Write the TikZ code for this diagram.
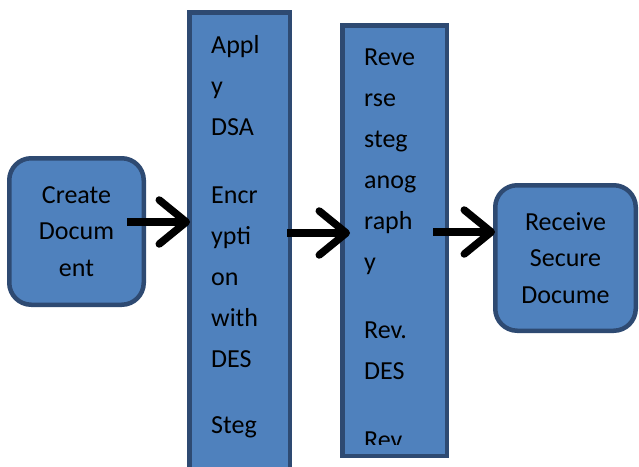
\documentclass[tikz,border=0pt]{standalone}
\usepackage{fontspec}
\setmainfont{Carlito}
\usetikzlibrary{arrows.meta}
\definecolor{boxfill}{HTML}{4F81BD}
\definecolor{boxline}{HTML}{2E4A72}
\begin{document}
\begin{tikzpicture}[x=1pt,y=-1pt,
  box/.style={draw=boxline, fill=boxfill, line width=4.5pt, inner sep=0pt},
  roundbox/.style={box, rounded corners=22pt, align=center, font=\fontsize{26}{36.5}\selectfont},
  boxtext/.style={anchor=base west, inner sep=0pt, text width=90pt, align=left, font=\fontsize{26}{41}\selectfont},
  arr/.style={line width=7.5pt, -{Straight Barb[length=27pt,width=44pt,round]}}]
\useasboundingbox (0,0) rectangle (639,466);
\clip (0,0) rectangle (639,466);
% boxes
\node[roundbox, minimum width=134.5pt, minimum height=146.5pt] (create) at (76.5,231.5) {Create\\Docum\\ent};
\node[box, minimum width=100.5pt, minimum height=465.5pt] (dsa) at (239.5,245) {};
\node[box, minimum width=104.5pt, minimum height=430.5pt] (rev) at (394.5,240.5) {};
\node[roundbox, minimum width=140.5pt, minimum height=145.5pt] (recv) at (565.5,258) {Receive\\Secure\\Docume};
% texts in tall boxes
\node[boxtext] (dsatext) at (211,53) {Appl\\y\\DSA\\[27pt]Encr\\ypti\\on\\with\\DES\\[25pt]Steg};
\begin{scope}
\clip (342.5,25.5) rectangle (446.5,444);
\node[boxtext] (revtext) at (364,65) {Reve\\rse\\steg\\anog\\raph\\y\\[27pt]Rev.\\DES\\[28pt]Rev.};
\end{scope}
% connectors
\draw[arr] ([xshift=-19pt,yshift=9.5pt]create.east) -- ([xshift=3pt,yshift=9.5pt]create.east -| dsa.west);
\draw[arr] ([xshift=-5pt,yshift=12pt]dsa.east) -- ([xshift=10pt,yshift=12pt]dsa.east -| rev.west);
\draw[arr] ([xshift=-16pt,yshift=8.5pt]rev.east) -- ([xshift=2pt,yshift=8.5pt]rev.east -| recv.west);
\end{tikzpicture}
\end{document}
